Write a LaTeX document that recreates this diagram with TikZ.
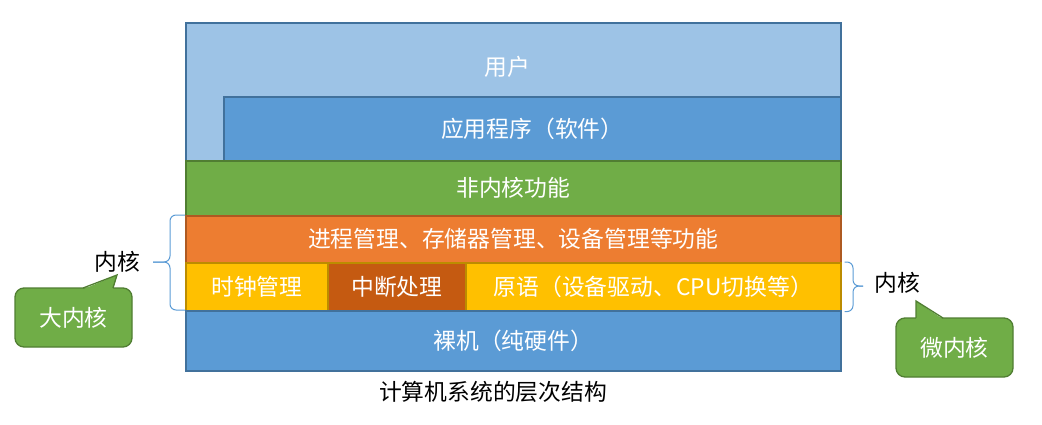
\documentclass[tikz,border=0pt]{standalone}
\usepackage{fontspec}
\setmainfont{Noto Sans CJK SC}
\definecolor{userblue}{HTML}{9DC3E6}
\definecolor{appblue}{HTML}{5B9BD5}
\definecolor{blueline}{HTML}{41719C}
\definecolor{kgreen}{HTML}{70AD47}
\definecolor{greenline}{HTML}{507E32}
\definecolor{korange}{HTML}{ED7D31}
\definecolor{orangeline}{HTML}{AE5A21}
\definecolor{kyellow}{HTML}{FFC000}
\definecolor{yellowline}{HTML}{BC8C00}
\definecolor{kdark}{HTML}{C55A11}
\begin{document}
\begin{tikzpicture}[x=1pt,y=-1pt,
  layer/.style={draw, line width=1.6pt, inner sep=0pt, anchor=north west, text=white,
    font=\fontsize{22.8}{27}\selectfont},
  bracestyle/.style={draw=appblue, line width=1pt, rounded corners=6pt},
  lab/.style={text=black, font=\fontsize{22.8}{27}\selectfont, inner sep=0pt},
  callbox/.style={draw=greenline, fill=kgreen, line width=1.3pt, rounded corners=9pt,
    minimum width=117pt, minimum height=59pt, inner sep=0pt, text=white,
    font=\fontsize{22.8}{27}\selectfont}]
\useasboundingbox (0,0) rectangle (1042,425);

% layers
\node[layer, fill=userblue, draw=blueline, minimum width=655pt, minimum height=138pt] (user) at (185,22) {};
\node[lab, text=white] (usertxt) at (507,67) {用户};
\node[layer, fill=appblue, draw=blueline, minimum width=617pt, minimum height=64pt] (app) at (223,96) {应用程序（软件）};
\node[layer, fill=kgreen, draw=greenline, minimum width=655pt, minimum height=55pt] (green) at (185,160) {非内核功能};
\node[layer, fill=korange, draw=orangeline, minimum width=655pt, minimum height=47pt] (orange) at (185,215) {进程管理、存储器管理、设备管理等功能};
\node[layer, fill=kyellow, draw=yellowline, minimum width=142pt, minimum height=48pt] (clock) at (185,262) {时钟管理};
\node[layer, fill=kdark, draw=yellowline, minimum width=138pt, minimum height=48pt] (intr) at (327,262) {中断处理};
\node[layer, fill=kyellow, draw=yellowline, minimum width=375pt, minimum height=48pt] (prim) at (465,262) {原语（设备驱动、CPU切换等）};
\node[layer, fill=appblue, draw=blueline, minimum width=655pt, minimum height=60pt] (bare) at (185,310) {裸机（纯硬件）};

% left brace
\coordinate (lbtip) at (153,262);
\draw[bracestyle] (orange.north west) -| (170,262) -- (lbtip);
\draw[bracestyle] (bare.north west) -| (170,262) -- (lbtip);
\node[lab] (lk) at (117,262) {内核};

% right brace
\coordinate (rbtip) at (863,286);
\draw[bracestyle] ([xshift=3pt]prim.north east) -| (853,286) -- (rbtip);
\draw[bracestyle] ([xshift=3pt]prim.south east) -| (853,286) -- (rbtip);
\node[lab] (rk) at (897,283) {内核};

% callout: big kernel
\node[callbox] (big) at (73.5,317.5) {大内核};
\fill[kgreen] (83,289.3) -- (117,275) -- (113,289.3) -- cycle;
\draw[greenline, line width=1.3pt, line join=miter] (83,288) -- (117,275) -- (113,288);

% callout: micro kernel
\node[callbox] (micro) at (954.5,347.5) {微内核};
\fill[kgreen] (916,319.3) -- (916,301) -- (943,319.3) -- cycle;
\draw[greenline, line width=1.3pt, line join=miter] (916,318) -- (916,301) -- (943,318);

% caption
\node[lab] (cap) at (493,392) {计算机系统的层次结构};
\end{tikzpicture}
\end{document}
